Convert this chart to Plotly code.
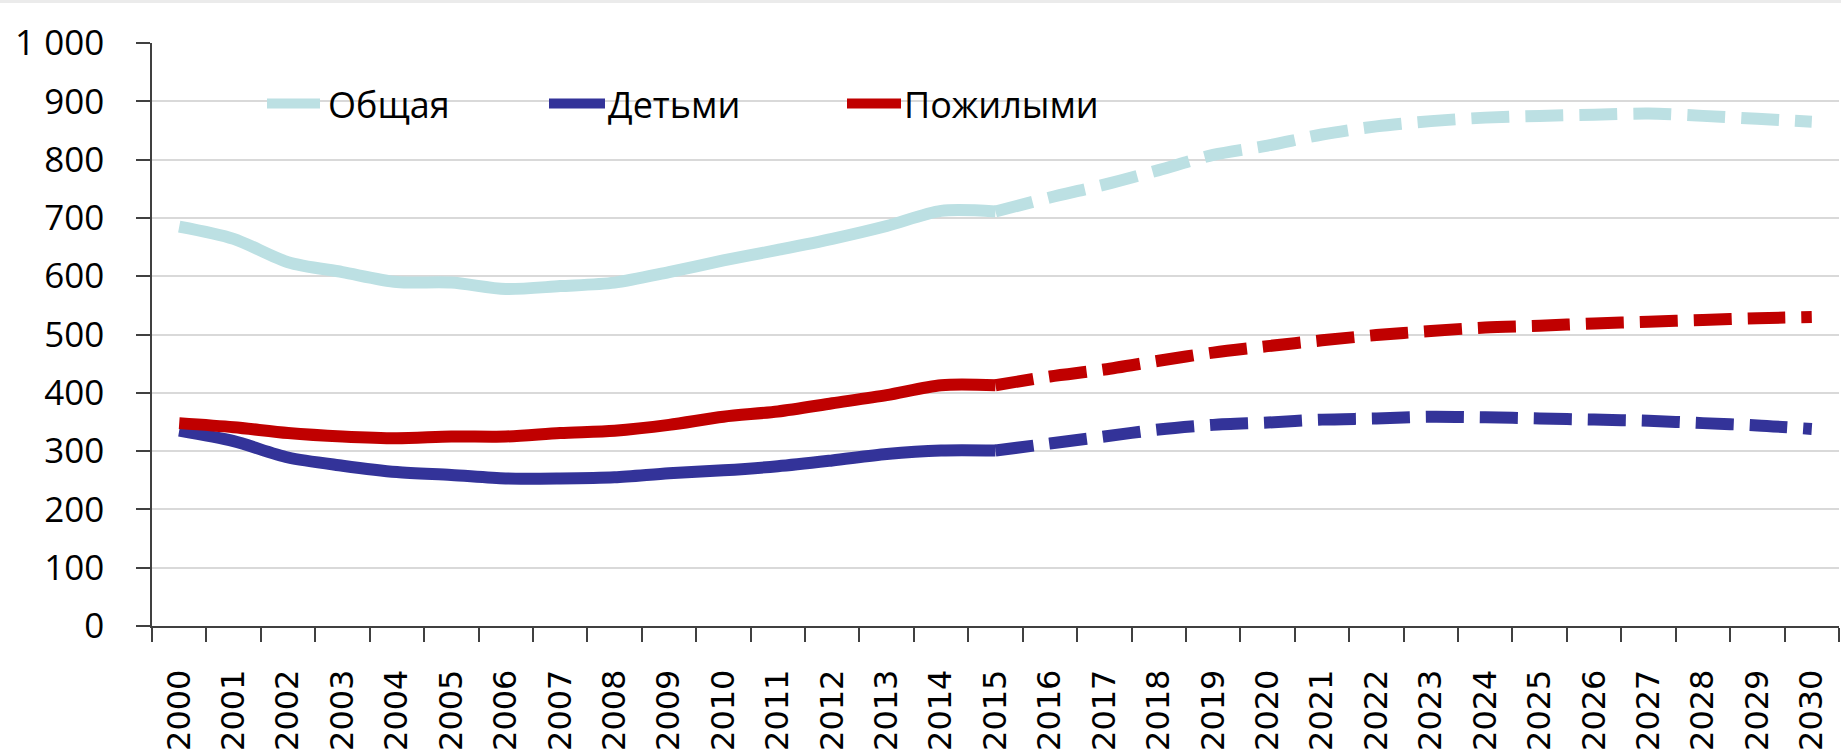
import plotly.graph_objects as go

years = [str(y) for y in range(2000, 2031)]

total = [685, 664, 624, 607, 590, 589, 578, 583, 589, 607, 627, 645, 664, 686, 712, 711,
         735, 757, 782, 808, 824, 843, 857, 866, 872, 875, 877, 879, 875, 870, 865]
children = [335, 317, 289, 275, 264, 259, 253, 253, 255, 262, 267, 274, 284, 295, 301, 301,
            313, 325, 337, 345, 349, 354, 356, 359, 358, 356, 354, 352, 348, 344, 338]
elderly = [348, 341, 331, 325, 322, 325, 325, 331, 335, 345, 359, 368, 382, 396, 413, 413,
           428, 440, 455, 469, 480, 490, 499, 506, 512, 515, 519, 522, 525, 528, 530]

names = ["Общая", "Детьми", "Пожилыми"]
colors = ["#BCE0E3", "#333399", "#C00000"]
series = [total, children, elderly]

ytick_vals = [0, 100, 200, 300, 400, 500, 600, 700, 800, 900, 1000]
ytick_text = ["0", "100", "200", "300", "400", "500", "600", "700", "800", "900", "1 000"]

split = years.index("2015")

W, H = 1841, 755
L, R, T, B = 152, 2, 43, 129
PW = W - L - R
PH = H - T - B


def px_x(p):
    return (p - L) / PW


def px_y(p):
    return (H - B - p) / PH


fig = go.Figure()
for i in range(3):
    fig.add_trace(go.Scatter(
        x=years[:split + 1], y=series[i][:split + 1], mode="lines",
        line=dict(color=colors[i], width=12, shape="spline", smoothing=0.8),
        showlegend=False, hoverinfo="skip"))
    fig.add_trace(go.Scatter(
        x=years[split:], y=series[i][split:], mode="lines",
        line=dict(color=colors[i], width=12, shape="spline", smoothing=0.8,
                  dash="38px,16px"),
        showlegend=False, hoverinfo="skip"))

# manual legend
leg_y = 103.5
leg_items = [(267, 320, 327), (549, 605, 607), (847, 901, 903)]
shapes = []
annotations = []
for (x0, x1, tx), name, col in zip(leg_items, names, colors):
    shapes.append(dict(type="line", xref="paper", yref="paper",
                       x0=px_x(x0), x1=px_x(x1), y0=px_y(leg_y), y1=px_y(leg_y),
                       line=dict(color=col, width=10), layer="above"))
    annotations.append(dict(xref="paper", yref="paper", x=px_x(tx), y=px_y(leg_y + 1),
                            text=name, showarrow=False, xanchor="left", yanchor="middle",
                            font=dict(family="Open Sans, Noto Sans, sans-serif", size=36,
                                      color="#000000"),
                            bgcolor="rgba(0,0,0,0)", borderpad=0))

# thin grey band at the very top of the picture
shapes.append(dict(type="rect", xref="paper", yref="paper",
                   x0=px_x(0), x1=px_x(W), y0=px_y(3), y1=px_y(0),
                   fillcolor="#EBEBEB", line=dict(width=0), layer="below"))

fig.update_layout(
    width=W, height=H,
    margin=dict(l=L, r=R, t=T, b=B, pad=0),
    paper_bgcolor="white", plot_bgcolor="white",
    shapes=shapes, annotations=annotations,
    showlegend=False,
)

fig.update_xaxes(
    type="category", categoryorder="array", categoryarray=years,
    range=[-0.5, len(years) - 0.5],
    tickson="boundaries", ticks="outside", ticklen=14, tickwidth=1.5, tickcolor="#404040",
    showline=True, linecolor="#404040", linewidth=1.5,
    showgrid=False, zeroline=False,
    tickangle=-90, ticklabelstandoff=29,
    tickfont=dict(family="DejaVu Sans, Verdana, sans-serif", size=32, color="#000000"),
)
fig.update_yaxes(
    range=[0, 1000], tickvals=ytick_vals, ticktext=ytick_text,
    ticks="outside", ticklen=14, tickwidth=1.5, tickcolor="#404040",
    showline=True, linecolor="#404040", linewidth=1.5,
    showgrid=True, gridcolor="#D9D9D9", gridwidth=1.5, zeroline=False,
    ticklabelstandoff=25,
    tickfont=dict(family="Open Sans, Noto Sans, sans-serif", size=35, color="#000000"),
)

fig.write_html("out.html", config={"displayModeBar": False},
               post_script="document.body.style.margin='0';document.body.style.overflow='hidden';")
